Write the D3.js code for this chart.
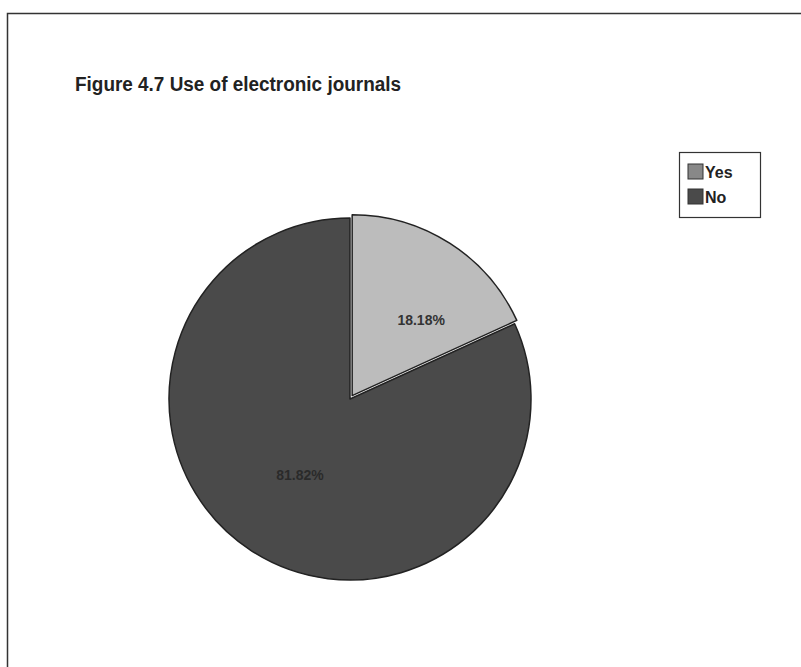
<!DOCTYPE html>
<html><head><meta charset="utf-8">
<script src="https://cdn.jsdelivr.net/npm/d3@7"></script>
<style>body{margin:0;background:#fff}svg{display:block}</style>
</head><body>
<script>
const categories = ["Yes", "No"];
const values = [18.18, 81.82];
const labels = ["18.18%", "81.82%"];
const colors = ["#bcbcbc", "#4a4a4a"];
const title = "Figure 4.7 Use of electronic journals";

const W = 801, H = 667;
const svg = d3.select("body").append("svg").attr("width", W).attr("height", H);
svg.append("rect").attr("width", W).attr("height", H).attr("fill", "#fff");

// frame
svg.append("path").attr("d", `M7.5,${H} V13.5 H${W}`).attr("fill", "none").attr("stroke", "#333").attr("stroke-width", 1.5);

svg.append("text").attr("x", 75).attr("y", 91).text(title)
  .attr("font-family", "Liberation Sans, Arial, sans-serif").attr("font-weight", "bold")
  .attr("font-size", 20).attr("textLength", 326).attr("lengthAdjust", "spacingAndGlyphs").attr("fill", "#222");

const cx = 350, cy = 399, r = 181;
const pie = d3.pie().sort(null).value(d => d)(values);
const arc = d3.arc().innerRadius(0).outerRadius(r);
const g = svg.append("g").attr("transform", `translate(${cx},${cy})`);
const explode = [4, 0];
const slices = g.selectAll("g.s").data(pie).join("g").attr("class", "s")
  .attr("transform", (d, i) => {
    const a = (d.startAngle + d.endAngle) / 2;
    return `translate(${Math.sin(a) * explode[i]},${-Math.cos(a) * explode[i]})`;
  });
slices.append("path").attr("d", arc).attr("fill", (d, i) => colors[i])
  .attr("stroke", "#222").attr("stroke-width", 1.5).attr("stroke-linejoin", "round");

const labelPos = [[69, -71], [-50, 81]];
slices.append("text")
  .attr("x", (d, i) => labelPos[i][0]).attr("y", (d, i) => labelPos[i][1])
  .attr("text-anchor", "middle")
  .attr("font-family", "Liberation Sans, Arial, sans-serif").attr("font-weight", "bold")
  .attr("font-size", 14).attr("fill", (d, i) => i === 0 ? "#333" : "#2a2a2a")
  .text((d, i) => labels[i]);

// legend
const lg = svg.append("g").attr("transform", "translate(679,152)");
lg.append("rect").attr("x", 0.5).attr("y", 0.5).attr("width", 81).attr("height", 65)
  .attr("fill", "#fff").attr("stroke", "#333").attr("stroke-width", 1.2);
categories.forEach((c, i) => {
  lg.append("rect").attr("x", 9).attr("y", 12 + i * 25).attr("width", 15).attr("height", 15)
    .attr("fill", i === 0 ? "#888" : colors[1]).attr("stroke", "#333").attr("stroke-width", 1);
  lg.append("text").attr("x", 26).attr("y", 26 + i * 25).text(c)
    .attr("font-family", "Liberation Sans, Arial, sans-serif").attr("font-weight", "bold")
    .attr("font-size", 16).attr("fill", "#222");
});
</script>
</body></html>
